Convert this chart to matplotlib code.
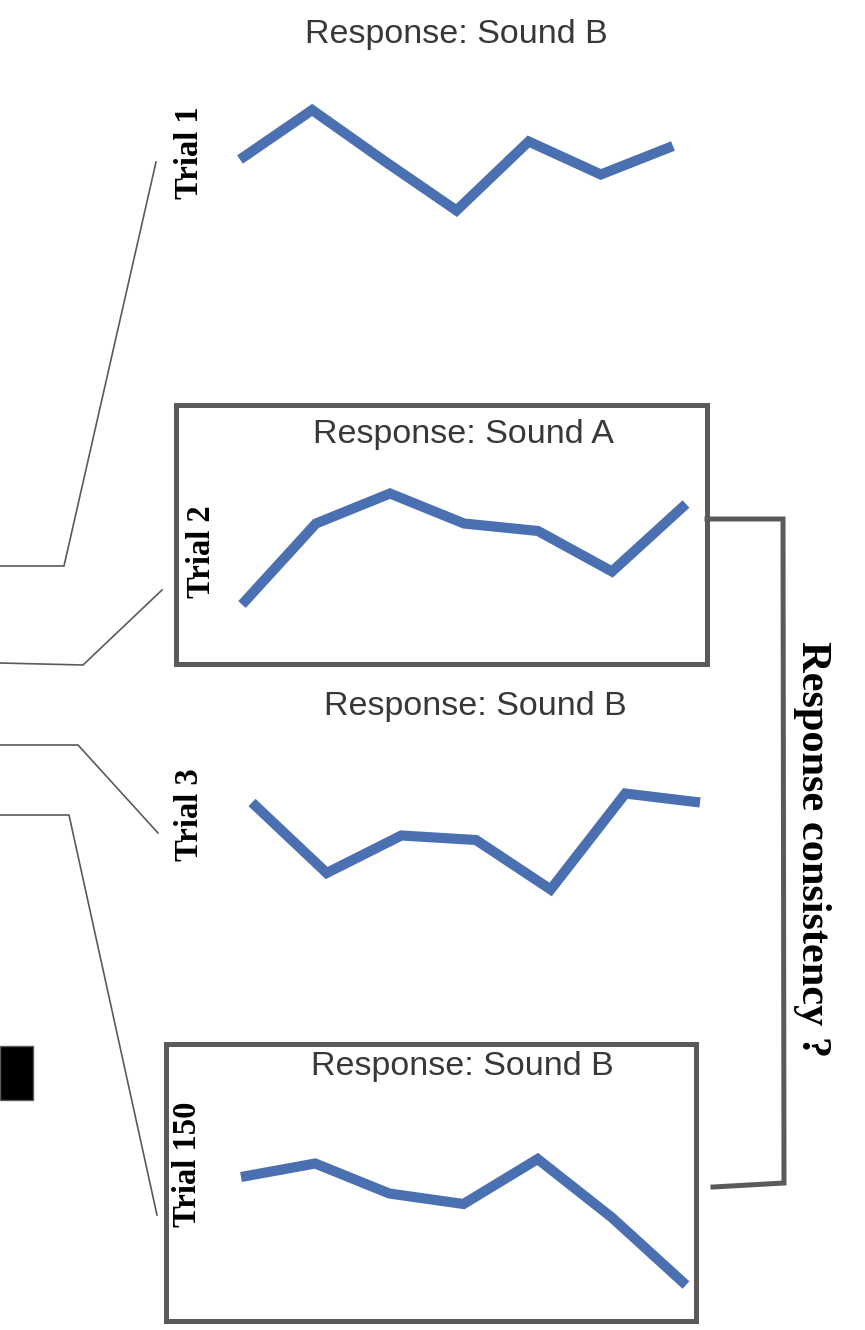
import matplotlib
matplotlib.use('Agg')
import matplotlib.pyplot as plt
from matplotlib.patches import Rectangle

W, H = 865, 1330

# response curves, one per trial (arbitrary level 0-10)
trial_names = ['Trial 1', 'Trial 2', 'Trial 3', 'Trial 150']
responses = ['Response: Sound B', 'Response: Sound A', 'Response: Sound B', 'Response: Sound B']
trial1 = [5.7, 9.0, 5.6, 2.3, 6.9, 4.7, 6.6]
trial2 = [1.7, 7.1, 9.1, 7.1, 6.6, 3.9, 8.4]
trial3 = [8.5, 3.8, 6.3, 6.0, 2.7, 9.1, 8.5]
trial150 = [8.2, 9.1, 7.1, 6.4, 9.4, 5.5, 1.0]
series = [trial1, trial2, trial3, trial150]

blue = '#4a70b2'
grey = '#5a5a5a'

fig = plt.figure(figsize=(W / 100, H / 100), dpi=100)
bg = fig.add_axes([0, 0, 1, 1])
bg.set_xlim(0, W)
bg.set_ylim(H, 0)
bg.axis('off')

# placement of each little plot (left, top, right, bottom in px)
plot_boxes = [(240, 95, 673, 245), (242, 480, 686, 630),
              (252, 780, 700, 930), (241, 1150, 686, 1300)]
title_pos = [(456, 34), (463, 435), (475, 707), (462, 1067)]
label_pos = [(190, 153), (201, 552), (190, 815), (188, 1164)]

for vals, (l, t, r, b) in zip(series, plot_boxes):
    ax = fig.add_axes([l / W, 1 - b / H, (r - l) / W, (b - t) / H])
    ax.plot(range(len(vals)), vals, color=blue, lw=7.3,
            solid_capstyle='butt', solid_joinstyle='miter', clip_on=False)
    ax.set_xlim(0, len(vals) - 1)
    ax.set_ylim(0, 10)
    ax.axis('off')

for txt, (x, y) in zip(responses, title_pos):
    bg.text(x, y, txt, ha='center', va='center', fontsize=24.5,
            family='Liberation Sans', color='#383838')

for txt, (x, y) in zip(trial_names, label_pos):
    bg.text(x, y, txt, ha='center', va='center', rotation=90, fontsize=23.5,
            family='Liberation Serif', fontweight='bold', color='black')

# frames around trial 2 and trial 150
bg.add_patch(Rectangle((176, 405), 531, 259, fill=False, ec=grey, lw=3.6))
bg.add_patch(Rectangle((166, 1044), 530, 277, fill=False, ec=grey, lw=3.6))

# connector lines from the left
bg.plot([0, 64, 156], [566, 566, 162], color=grey, lw=1.2)
bg.plot([0, 83, 162], [663, 665, 590], color=grey, lw=1.2)
bg.plot([0, 78, 158], [745, 745, 833], color=grey, lw=1.2)
bg.plot([0, 69, 157], [815, 815, 1215], color=grey, lw=1.2)

bg.add_patch(Rectangle((0, 1046), 33, 54, fc='black', ec=grey, lw=1))

# bracket on the right
bg.plot([707, 783, 784, 713], [519, 519, 1183, 1187], color=grey, lw=3.6,
        solid_joinstyle='miter')
bg.text(812, 849, 'Response consistency ?', rotation=-90, ha='center', va='center',
        fontsize=30.5, family='Liberation Serif', fontweight='bold', color='black')

fig.savefig('out.png', dpi=100, facecolor='white')
